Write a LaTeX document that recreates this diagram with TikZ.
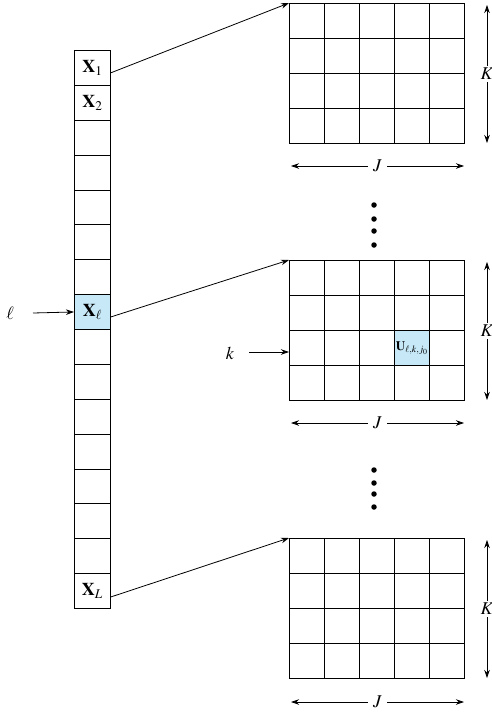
\documentclass[tikz,border=0pt]{standalone}
\usepackage{mathptmx}
\usetikzlibrary{arrows.meta,calc}
\definecolor{cellblue}{RGB}{198,232,247}
\begin{document}
\begin{tikzpicture}[x=1pt,y=-1pt,
  every node/.style={font=\fontsize{18}{20}\selectfont},
  colcell/.style={draw, line width=0.8pt, minimum width=36pt, minimum height=34.875pt, inner sep=0pt, anchor=north west},
  gridbox/.style={draw, line width=1pt, minimum width=175pt, minimum height=140pt, inner sep=0pt, anchor=north west},
  gline/.style={line width=1pt},
  ucell/.style={draw, line width=1pt, fill=cellblue, minimum width=35pt, minimum height=35pt, inner sep=0pt, anchor=north west},
  conn/.style={line width=0.8pt, -{Stealth[length=8pt,width=5.5pt]}},
  dim/.style={line width=0.8pt, {Stealth[length=8pt,width=5.5pt]}-{Stealth[length=8pt,width=5.5pt]}},
  lab/.style={fill=white, inner sep=2pt},
  dotnode/.style={circle, fill=black, minimum size=5.5pt, inner sep=0pt}
]
\useasboundingbox (0,0) rectangle (492,713);

% left column
\foreach \i/\t in {1/{$\mathbf{X}_1$},2/{$\mathbf{X}_2$},3/{},4/{},5/{},6/{},7/{},9/{},10/{},11/{},12/{},13/{},14/{},15/{},16/{$\mathbf{X}_L$}}
  \node[colcell] (c\i) at (74,{50+(\i-1)*34.875}) {\t};
\node[colcell, fill=cellblue] (c8) at (74,{50+7*34.875}) {$\mathbf{X}_\ell$};

% grids
\foreach \g/\y in {1/3,2/260,3/538}{
  \node[gridbox] (g\g) at (289,\y) {};
  \foreach \c in {1,...,4}
    \draw[gline] ($(g\g.north west)+(\c*35,0)$) -- ($(g\g.south west)+(\c*35,0)$);
  \foreach \r in {1,...,3}
    \draw[gline] ($(g\g.north west)+(0,\r*35)$) -- ($(g\g.north east)+(0,\r*35)$);
}
\node[ucell] (u) at (394,330) {\fontsize{13}{14}\selectfont$\mathbf{U}_{\ell,k,j_0}$};

% connectors
\draw[conn] ([yshift=-5pt]c1.east) -- (g1.north west);
\draw[conn] ([yshift=-5pt]c8.east) -- (g2.north west);
\draw[conn] ([yshift=-6pt]c16.east) -- (g3.north west);

% ell and k
\node (ell) at (10,313) {$\ell$};
\coordinate (ellst) at (33,313);
\draw[conn] (ellst) -- (c8.west);
\node (kl) at (230,353) {$k$};
\coordinate (kst) at (249,352);
\coordinate (ken) at (289,352);
\draw[conn] (kst) -- (ken);

% dimension arrows
\foreach \g/\t/\b/\j in {1/5/143/166,2/262/400/423,3/540/678/702}{
  \coordinate (kt\g) at (487,\t);
  \coordinate (kb\g) at (487,\b);
  \draw[dim] (kt\g) -- node[lab] (K\g) {$K$} (kb\g);
  \coordinate (jl\g) at (291,\j);
  \coordinate (jr\g) at (464,\j);
  \draw[dim] (jl\g) -- node[lab, inner xsep=5pt] (J\g) {$J$} (jr\g);
}

% dots
\foreach \n/\y in {1/205,2/219,3/231,4/245,5/470,6/483,7/494,8/507}
  \node[dotnode] (d\n) at (374,\y) {};
\end{tikzpicture}
\end{document}
